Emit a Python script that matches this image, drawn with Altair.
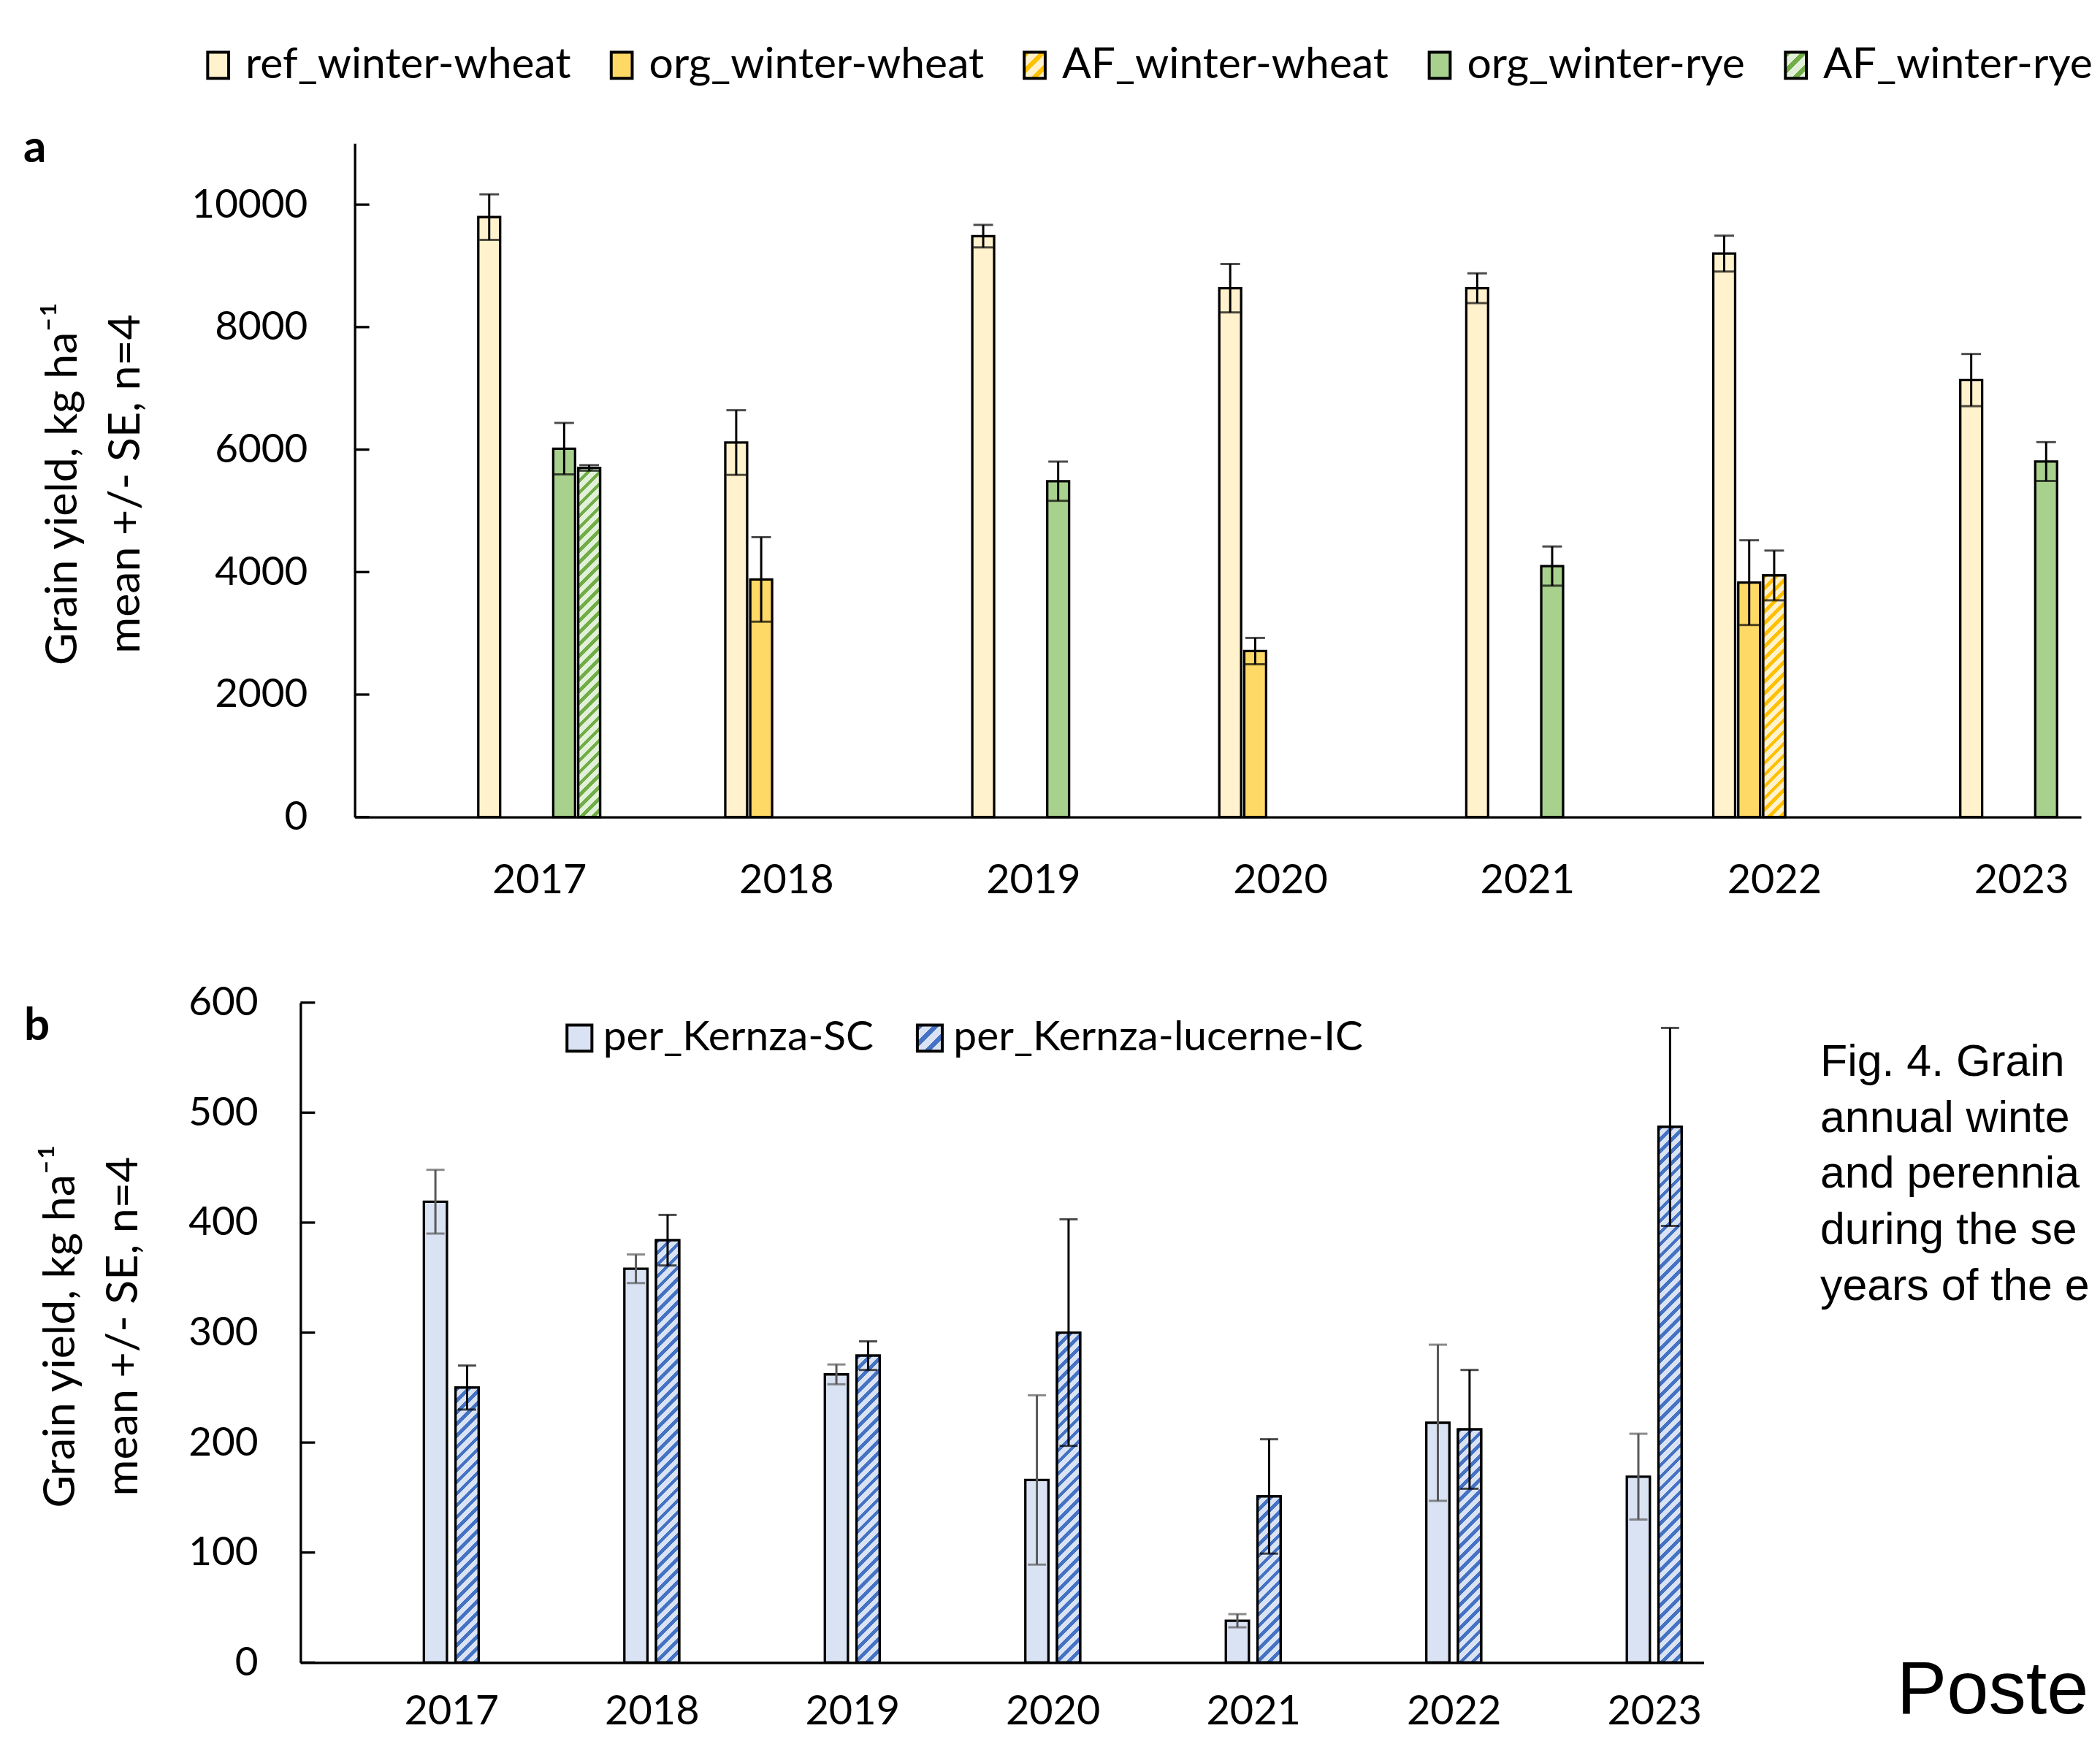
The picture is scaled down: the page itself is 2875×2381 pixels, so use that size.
import json
import altair as alt

# ---------------- data ----------------
years = ["2017", "2018", "2019", "2020", "2021", "2022", "2023"]

series_a = ["ref_winter-wheat", "org_winter-wheat", "AF_winter-wheat",
            "org_winter-rye", "AF_winter-rye"]
ref_ww_mean = [9796, 6115, 9485, 8635, 8635, 9200, 7135]
ref_ww_se = [372, 528, 184, 395, 243, 293, 426]
org_ww_mean = [None, 3880, None, 2710, None, 3828, None]
org_ww_se = [None, 690, None, 215, None, 692, None]
af_ww_mean = [None, None, None, None, None, 3945, None]
af_ww_se = [None, None, None, None, None, 406, None]
org_wr_mean = [6015, None, 5484, None, 4098, None, 5805]
org_wr_se = [420, None, 320, None, 320, None, 317]
af_wr_mean = [5701, None, None, None, None, None, None]
af_wr_se = [45, None, None, None, None, None, None]

series_b = ["per_Kernza-SC", "per_Kernza-lucerne-IC"]
sc_mean = [419, 358, 262, 166, 38, 218, 169]
sc_se = [29, 13, 9, 77, 6, 71, 39]
ic_mean = [250, 384, 279, 300, 151, 212, 487]
ic_se = [20, 23, 13, 103, 52, 54, 90]

ticks_a = [0, 2000, 4000, 6000, 8000, 10000]
ticks_b = [0, 100, 200, 300, 400, 500, 600]

y_title = ["Grain yield, kg ha\u207b\u00b9", "mean +/- SE, n=4"]
caption_lines = ["Fig. 4. Grain", "annual winte", "and perennia",
                 "during the se", "years of the e"]
poster_word = "Poste"

# ---------------- styling / layout ----------------
fill_a = ["#FFF2CC", "#FFD966", "#FFF2CC", "#A9D18E", "#E2F0D9"]
stripe_a = [None, None, "#FFC000", None, "#70AD47"]
fill_b = ["#DAE3F3", "#DAE3F3"]
stripe_b = [None, "#4472C4"]
err_b = ["#595959", "#000000"]

FONT = "Lato"
BAR_STROKE = 3.3
W_A, H_A, YMAX_A = 2370, 925, 11000
W_B, H_B, YMAX_B = 1852, 906, 600
B_SHIFT = 74.5

# category axis geometry (in "year" units): cluster of slots around each year
UNIT_A = 339.1
DOM_A = [-253.2 / UNIT_A, -253.2 / UNIT_A + W_A / UNIT_A]
SLOT_A, HALF_A, CENTER_A = 34.3 / UNIT_A, 15.0 / UNIT_A, 2
UNIT_B = 275.25
DOM_B = [-207.0 / UNIT_B, -207.0 / UNIT_B + (W_B + B_SHIFT) / UNIT_B]
SLOT_B, HALF_B, CENTER_B = 43.5 / UNIT_B, 15.85 / UNIT_B, 0.5


def hatch(w, h, bg, fg, period=16.0, frac=0.42):
    """Diagonal '/' stripes as a hard-stop linear gradient in bbox units."""
    h = max(h, 1.0)
    total = w + h
    k = total / (w * w + h * h)
    stops = []
    i = 0
    while i * period < total:
        a = i * period / total
        b = min((i * period + period * frac) / total, 1.0)
        c = min((i + 1) * period / total, 1.0)
        stops += [{"offset": round(a, 5), "color": fg},
                  {"offset": round(b, 5), "color": fg},
                  {"offset": round(b, 5), "color": bg},
                  {"offset": round(c, 5), "color": bg}]
        i += 1
    return {"gradient": "linear", "x1": 0, "y1": 0,
            "x2": round(k * w, 6), "y2": round(k * h, 6), "stops": stops}


def legend_range(fills, stripes, w, h):
    out = []
    for bg, fg in zip(fills, stripes):
        if fg:
            out.append(alt.ExprRef(expr=json.dumps(hatch(w, h, bg, fg, period=22.0, frac=0.4))))
        else:
            out.append(bg)
    return out


def build_rows(names, means_list, se_list, fills, stripes, bar_w, px_per_unit):
    rows, hatched = [], []
    for si, (name, means, ses, bg, fg) in enumerate(zip(names, means_list, se_list, fills, stripes)):
        for yi, (yr, m, se) in enumerate(zip(years, means, ses)):
            if m is None:
                continue
            r = {"year": yr, "yi": yi, "series": name, "si": si,
                 "mean": m, "lo": m - se, "hi": m + se}
            rows.append(r)
            if fg:
                hatched.append(dict(r, grad=hatch(bar_w, m * px_per_unit, bg, fg)))
    return rows, hatched


rows_a, hatch_a = build_rows(series_a,
                             [ref_ww_mean, org_ww_mean, af_ww_mean, org_wr_mean, af_wr_mean],
                             [ref_ww_se, org_ww_se, af_ww_se, org_wr_se, af_wr_se],
                             fill_a, stripe_a, 2 * HALF_A * UNIT_A, H_A / YMAX_A)
rows_b, hatch_b = build_rows(series_b, [sc_mean, ic_mean], [sc_se, ic_se],
                             fill_b, stripe_b, 2 * HALF_B * UNIT_B, H_B / YMAX_B)


def with_x(chart, slot, half, center):
    xc = f"datum.yi + (datum.si - {center}) * {slot}"
    return chart.transform_calculate(xc=xc, x0=f"({xc}) - {half}", x1=f"({xc}) + {half}")


def x_axis(pad):
    return alt.Axis(values=list(range(len(years))), labelExpr=f"{json.dumps(years)}[datum.value]",
                    labelAngle=0, labelPadding=pad, ticks=False, grid=False, title=None,
                    labelFlush=False, labelOverlap=False, labelBound=False,
                    domainColor="black", domainWidth=BAR_STROKE, labelFontSize=56,
                    labelFont=FONT, labelColor="black")


def y_axis(values, pad, offset, tx, ty):
    return alt.Axis(values=values, format="d", labelPadding=pad, ticks=False, grid=False,
                    offset=offset, labelFlush=False, labelOverlap=False,
                    labelFont=FONT, labelFontSize=55, labelColor="black",
                    title=y_title, titleAngle=270, titleX=tx, titleY=ty,
                    titleAlign="center", titleBaseline="alphabetic", titleLineHeight=86,
                    titleFont=FONT, titleFontSize=61, titleFontWeight="normal",
                    titleColor="black", domainColor="black", domainWidth=BAR_STROKE)


def legend(x, y, n, shape, size, offset, colpad):
    return alt.Legend(orient="none", legendX=x, legendY=y, direction="horizontal",
                      columns=n, title=None, padding=0, symbolType=shape, symbolSize=1296,
                      symbolStrokeColor="black", symbolStrokeWidth=4, symbolOpacity=1,
                      labelFont=FONT, labelFontSize=size, labelColor="black", labelLimit=2000,
                      labelOffset=offset, columnPadding=colpad)


def panel(rows, hatched, series, fills, stripes, sym_w, xs, ys, ax_x, ax_y, geom, leg,
          err_colors, cap, tick_x0, extra):
    slot, half, center = geom
    X0 = alt.X("x0:Q", scale=xs, axis=ax_x)
    XC = alt.X("xc:Q", scale=xs, axis=ax_x)
    Y = lambda f: alt.Y(f, scale=ys, axis=ax_y)
    bars = with_x(alt.Chart(alt.Data(values=rows)), slot, half, center).mark_rect(
        stroke="black", strokeWidth=BAR_STROKE).encode(
        x=X0, x2="x1:Q", y=Y("mean:Q"), y2=alt.datum(0),
        fill=alt.Fill("series:N", scale=alt.Scale(domain=series,
                      range=legend_range(fills, stripes, sym_w, 36)), legend=leg),
    )
    over = with_x(alt.Chart(alt.Data(values=hatched)), slot, half, center).mark_rect(
        stroke="black", strokeWidth=BAR_STROKE).encode(
        x=X0, x2="x1:Q", y=Y("mean:Q"), y2=alt.datum(0),
        color=alt.Color("grad:N", scale=None),
    )
    layers = [bars, over]
    for name, col in zip(series, err_colors):
        base = with_x(alt.Chart(alt.Data(values=rows)).transform_filter(
            alt.datum.series == name), slot, half, center)
        layers.append(base.mark_rule(color=col, strokeWidth=3).encode(
            x=XC, y=Y("lo:Q"), y2="hi:Q"))
        layers.append(base.transform_fold(["lo", "hi"], as_=["end", "val"]).mark_tick(
            color=col, thickness=3, size=cap, orient="horizontal").encode(
            x=XC, y=Y("val:Q")))
    tick_vals = ax_y.values
    layers.append(alt.Chart(alt.Data(values=[{"v": t} for t in tick_vals])).mark_rule(
        color="black", strokeWidth=BAR_STROKE).encode(
        y=Y("v:Q"), x=alt.value(tick_x0), x2=alt.value(tick_x0 + 20)))
    layers.extend(extra)
    return layers


def text_mark(text, x, y, **kw):
    return alt.Chart(alt.Data(values=[{}])).mark_text(
        text=text, align="left", baseline="alphabetic", color="black", **kw).encode(
        x=alt.value(x), y=alt.value(y))


# ---------------- panel a ----------------
xs_a = alt.Scale(domain=DOM_A, nice=False, zero=False)
ys_a = alt.Scale(domain=[0, YMAX_A], nice=False)
layers_a = panel(rows_a, hatch_a, series_a, fill_a, stripe_a, 28.8, xs_a, ys_a,
                 x_axis(60), y_axis(ticks_a, 65, 0, -382, 467),
                 (SLOT_A, HALF_A, CENTER_A),
                 legend(-217, -137, 5, "M-0.8,-1H0.8V1H-0.8Z", 59, 8, 40),
                 ["black"] * len(series_a), 27, 0,
                 [text_mark("a", -455, 26, font=FONT, fontSize=62, fontWeight="bold")])
panel_a = alt.layer(*layers_a).properties(width=W_A, height=H_A)

# ---------------- panel b ----------------
xs_b = alt.Scale(domain=DOM_B, range=[-B_SHIFT, W_B], nice=False, zero=False)
ys_b = alt.Scale(domain=[0, YMAX_B], nice=False)
layers_b = panel(rows_b, hatch_b, series_b, fill_b, stripe_b, 34.2, xs_b, ys_b,
                 x_axis(40), y_axis(ticks_b, 58.5, B_SHIFT, -310.5, 444),
                 (SLOT_B, HALF_B, CENTER_B),
                 legend(280, 20, 2, "M-0.95,-1H0.95V1H-0.95Z", 57, 4, 48),
                 err_b, 25, -B_SHIFT,
                 [text_mark("b", -454, 51, font=FONT, fontSize=62, fontWeight="bold"),
                  text_mark(caption_lines, 2012, 100.3, font="Liberation Sans",
                            fontSize=61, lineHeight=77),
                  text_mark(poster_word, 2117, 976, font="Liberation Sans", fontSize=103)])
panel_b = alt.layer(*layers_b).properties(width=W_B, height=H_B)

# ---------------- assemble ----------------
PAGE_W, PAGE_H = 2867, 2365
LEFT, TOP = 487 - 8, 193.5 - 8
chart = alt.vconcat(panel_a, panel_b, spacing=254.8, bounds="flush").resolve_scale(
    fill="independent", color="independent"
).properties(
    autosize=alt.AutoSizeParams(type="none"),
    padding={"left": LEFT, "top": TOP, "right": PAGE_W - LEFT, "bottom": PAGE_H - TOP},
    background="white",
).configure_view(stroke=None)

chart.save("out.html", embed_options={"renderer": "svg", "actions": False})
